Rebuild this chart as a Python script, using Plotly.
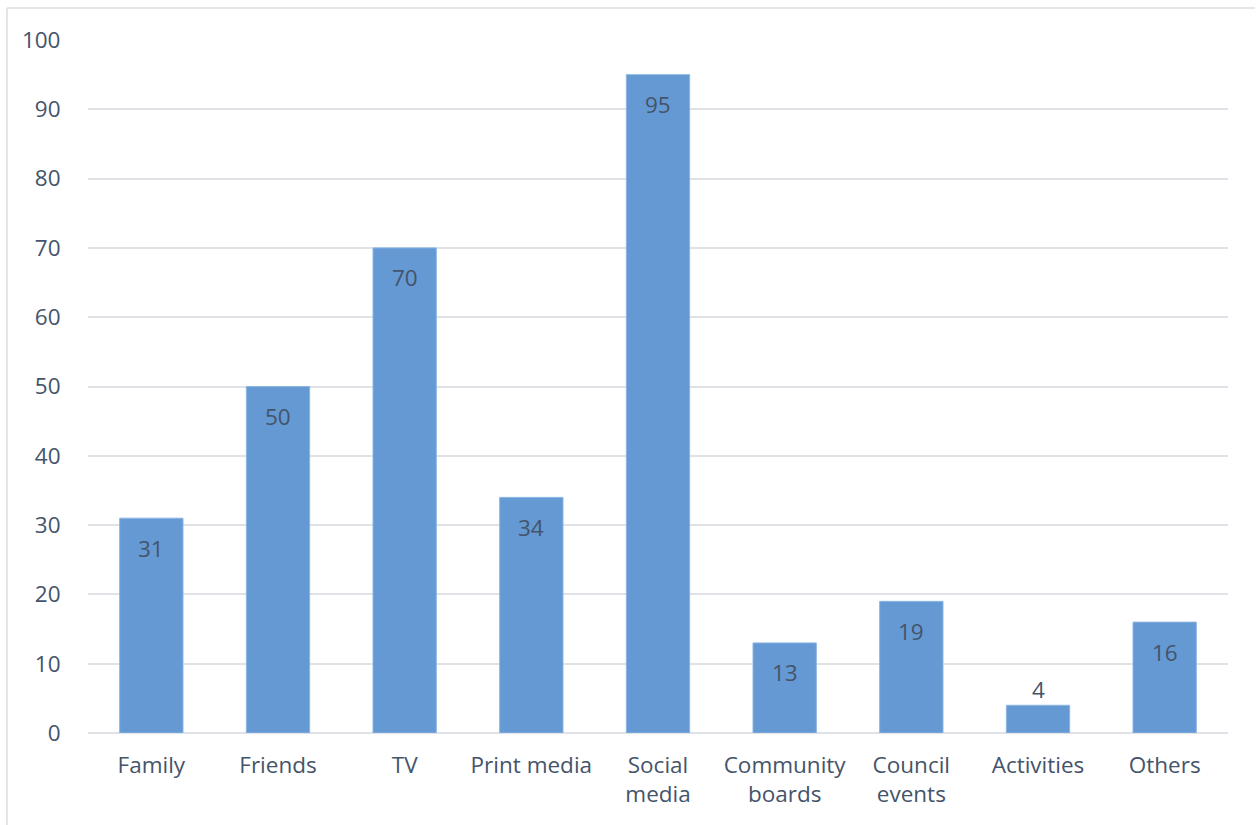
import plotly.graph_objects as go

categories = ["Family", "Friends", "TV", "Print media", "Social<br>media",
              "Community<br>boards", "Council<br>events", "Activities", "Others"]
counts = [31, 50, 70, 34, 95, 13, 19, 4, 16]
y_ticks = [0, 10, 20, 30, 40, 50, 60, 70, 80, 90, 100]

TEXT = "#44546A"
GRID = "#DFE2E7"
FONT = "'Open Sans', Lato, sans-serif"
SIZE = 22.5

fig = go.Figure(
    go.Bar(
        x=categories,
        y=counts,
        marker=dict(color="#6499D3", line=dict(color="#8DB6E3", width=1)),
        hoverinfo="x+y",
    )
)

# value labels: inside the top of each bar, above it when the bar is too short
for cat, v in zip(categories, counts):
    inside = v >= 8
    fig.add_annotation(
        x=cat, y=v, xref="x", yref="y",
        text=str(v), showarrow=False,
        yanchor="middle", yshift=-30 if inside else 16,
        font=dict(family=FONT, size=SIZE, color=TEXT),
    )

# light frame along the top and left edge
frame = dict(color="#DADDE2", width=1.5)
fig.add_shape(type="line", xref="paper", yref="paper",
              x0=-0.0711, x1=1.0237, y0=1.0462, y1=1.0462, line=frame)
fig.add_shape(type="line", xref="paper", yref="paper",
              x0=-0.0711, x1=-0.0711, y0=1.0462, y1=-0.14, line=frame)

fig.update_layout(
    width=1259, height=825,
    margin=dict(l=88, r=31, t=40, b=92),
    paper_bgcolor="white", plot_bgcolor="white",
    bargap=0.5, showlegend=False,
    font=dict(family=FONT, size=SIZE, color=TEXT),
)
fig.update_xaxes(
    type="category", showgrid=False, showline=False, zeroline=False,
    ticks="outside", ticklen=12, tickcolor="rgba(0,0,0,0)",
    tickfont=dict(family=FONT, size=SIZE, color=TEXT),
)
fig.update_yaxes(
    range=[0, 100], tickvals=y_ticks, showgrid=True, gridcolor=GRID, gridwidth=1.5,
    zeroline=True, zerolinecolor=GRID, zerolinewidth=1.5, showline=False,
    ticks="outside", ticklen=22, tickcolor="rgba(0,0,0,0)",
    tickfont=dict(family=FONT, size=SIZE, color=TEXT),
)

fig.write_html("out.html")
